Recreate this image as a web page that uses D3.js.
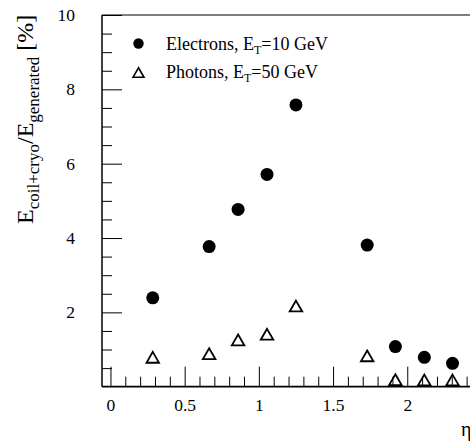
<!DOCTYPE html>
<html>
<head>
<meta charset="utf-8">
<script src="https://cdn.jsdelivr.net/npm/d3@7"></script>
<style>
  html, body { margin: 0; padding: 0; background: #fff; }
  svg { display: block; }
  text { font-family: "Liberation Serif", "Times New Roman", serif; fill: #000; }
</style>
</head>
<body>
<svg id="chart" width="470" height="447" font-family="Liberation Serif, serif"></svg>
<script>
// Pseudorapidity bins
const eta = [0.285, 0.665, 0.86, 1.055, 1.25, 1.73, 1.92, 2.115, 2.305];
// Fraction of generated energy deposited in coil + cryostat [%]
const electrons = [2.39, 3.77, 4.77, 5.71, 7.58, 3.81, 1.08, 0.79, 0.63];
const photons = [0.79, 0.89, 1.26, 1.41, 2.17, 0.83, 0.19, 0.18, 0.18];

const xMajor = [0, 0.5, 1, 1.5, 2];
const xMinor = d3.range(1, 25).map(i => i / 10).filter(v => Math.abs(v * 2 - Math.round(v * 2)) > 1e-6);
const yMajor = [2, 4, 6, 8, 10];
const yMinor = d3.range(1, 20).map(i => i / 2).filter(v => v % 2 !== 0);

const serif = "Liberation Serif, Times New Roman, serif";
const svg = d3.select("#chart");

const plotLeft = 102, plotTop = 15, plotBottom = 386.7;
const x = d3.scaleLinear().domain([-0.057, 2.5]).range([plotLeft, plotLeft + 2.557 * 148.4]);
const y = d3.scaleLinear().domain([0, 10]).range([plotBottom, plotTop]);

// Ticks along the bottom edge, pointing into the plot
const gx = svg.append("g").attr("transform", `translate(0,${plotBottom})`);
gx.call(d3.axisBottom(x).tickValues(xMinor).tickSize(-10).tickSizeOuter(0).tickFormat(""));
gx.call(g => g.select(".domain").remove());
const gx2 = svg.append("g").attr("transform", `translate(0,${plotBottom})`);
gx2.call(d3.axisBottom(x).tickValues(xMajor).tickSize(-20).tickSizeOuter(0).tickPadding(0)
  .tickFormat(d => d3.format("~g")(d)));
gx2.call(g => g.select(".domain").remove());
gx2.attr("font-family", serif).attr("font-size", 17.5);
gx2.selectAll("text").attr("dy", null).attr("y", 24.6);

// Ticks along the left edge, pointing into the plot
const gy = svg.append("g").attr("transform", `translate(${plotLeft},0)`);
gy.call(d3.axisLeft(y).tickValues(yMinor).tickSize(-10).tickSizeOuter(0).tickFormat(""));
gy.call(g => g.select(".domain").remove());
const gy2 = svg.append("g").attr("transform", `translate(${plotLeft},0)`);
gy2.call(d3.axisLeft(y).tickValues(yMajor).tickSize(-20).tickSizeOuter(0).tickPadding(27));
gy2.call(g => g.select(".domain").remove());
gy2.attr("font-family", serif).attr("font-size", 17.5);

svg.selectAll(".tick line").attr("stroke", "#000").attr("stroke-width", 1);

// Frame lines
const frame = svg.append("g").attr("stroke", "#000").attr("fill", "none");
frame.append("line").attr("x1", plotLeft).attr("x2", 480).attr("y1", plotTop).attr("y2", plotTop).attr("stroke-width", 1.2);
frame.append("line").attr("x1", plotLeft).attr("x2", plotLeft).attr("y1", plotTop).attr("y2", plotBottom).attr("stroke-width", 1.5);
frame.append("line").attr("x1", plotLeft).attr("x2", 480).attr("y1", plotBottom).attr("y2", plotBottom).attr("stroke-width", 1.8);

// Open triangle centred on its bounding box
function triPath(w) {
  const h = w * Math.sqrt(3) / 2;
  return `M0,${-h / 2}L${w / 2},${h / 2}L${-w / 2},${h / 2}Z`;
}

// Photons
svg.append("g").selectAll("path").data(eta.map((e, i) => [e, photons[i]])).join("path")
  .attr("transform", d => `translate(${x(d[0])},${y(d[1])})`)
  .attr("d", triPath(12.5))
  .attr("fill", "none").attr("stroke", "#000").attr("stroke-width", 1.8)
  .attr("stroke-linejoin", "miter");

// Electrons
svg.append("g").selectAll("circle").data(eta.map((e, i) => [e, electrons[i]])).join("circle")
  .attr("cx", d => x(d[0])).attr("cy", d => y(d[1])).attr("r", 6.5).attr("fill", "#000");

// Legend
const lg = svg.append("g").attr("font-family", serif);
lg.append("circle").attr("cx", 138.5).attr("cy", 43.5).attr("r", 5.2).attr("fill", "#000");
lg.append("path").attr("transform", "translate(138.5,72.5)").attr("d", triPath(11))
  .attr("fill", "none").attr("stroke", "#000").attr("stroke-width", 1.6);

function legendText(yb, name, val) {
  const t = lg.append("text").attr("x", 166).attr("y", yb).attr("font-size", 18);
  t.append("tspan").text(name + ", E");
  t.append("tspan").attr("dy", 4).attr("font-size", 12).text("T");
  t.append("tspan").attr("dy", -4).text("=" + val + " GeV");
}
legendText(50, "Electrons", 10);
legendText(78.3, "Photons", 50);

// Axis titles
const yt = svg.append("text").attr("transform", "translate(33,224) rotate(-90)")
  .attr("text-anchor", "start").attr("font-family", serif).attr("font-size", 24);
yt.append("tspan").text("E");
yt.append("tspan").attr("dy", 6).attr("font-size", 17).text("coil+cryo");
yt.append("tspan").attr("dy", -6).text("/E");
yt.append("tspan").attr("dy", 6).attr("font-size", 17).text("generated");
yt.append("tspan").attr("dy", -6).text(" [%]");

svg.append("text").attr("x", 461).attr("y", 436).attr("font-family", serif).attr("font-size", 20).text("η");
</script>
</body>
</html>
